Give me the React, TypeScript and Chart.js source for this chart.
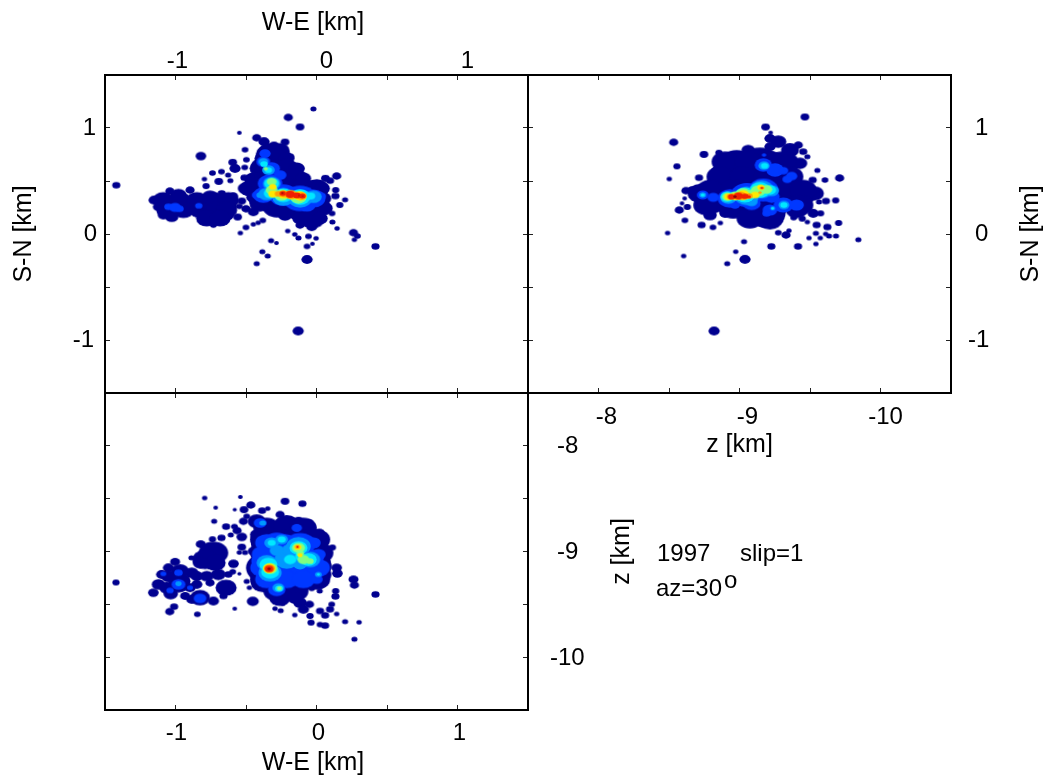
import React, { useEffect, useRef } from "react";
import { Chart, registerables } from "chart.js";

Chart.register(...registerables);

const FONT = '"Liberation Sans", Arial, sans-serif';
const levelColors = ["#00008f", "#0038ff", "#0098ff", "#00e8ff", "#80ff80", "#ffe800", "#ffa000", "#f02000", "#800000"];
const levelHalo = [0.7, 0.3, 0.3, 0.3, 0.3, 0.3, 0.3, 0.3, 0];

type Blob = [number, number, number];

// Each row: position along the horizontal axis [km], position along the vertical axis [km], blob radius [km]
const weSnLevel1: Blob[] = [
  [-1.42,.46,.024],[-.82,.735,.033],[-1.04,.405,.028],[-.2,1.1,.028],[-.117,1.01,.026],[-.022,1.18,.017],[-.547,.955,.012],[-.507,.795,.019],
  [-.497,.701,.019],[-.594,.676,.026],[-.509,.628,.019],[-.578,.619,.035],[-.738,.575,.019],[-.674,.588,.019],[-.627,.556,.017],[-.795,.518,.014],
  [-.693,.496,.026],[-.611,.503,.017],[-.511,.531,.024],[-.783,.452,.021],[.143,.547,.028],[.063,.525,.026],[.096,.503,.024],[.136,.415,.021],
  [.134,.358,.024],[.203,.323,.017],[.165,.273,.021],[.11,.194,.019],[.113,.113,.017],[.146,.053,.014],[.262,.012,.028],[.29,-.019,.019],
  [.269,-.054,.014],[.418,-.117,.024],[-.067,-.24,.035],[-.424,-.28,.017],[-.346,-.208,.017],[-.384,-.167,.017],[-.322,-.063,.017],[-.284,-.085,.012],
  [-.029,-.092,.012],[-.067,-.117,.019],[-.003,-.041,.014],[-.057,-.022,.019],[-.128,-.038,.017],[-.154,-.004,.014],[-.204,.028,.014],[-.54,.009,.014],
  [-.5,.062,.019],[-.448,.091,.014],[-.414,.106,.014],[-.381,.128,.019],[-.559,.16,.026],[-.53,.311,.026],[-.547,.261,.019],[-.5,.238,.028],[-.13,-.915,.035],
  [-1.152,.32,.035],[-1.121,.257,.035],[-1.086,.179,.035],[-1.027,.163,.043],[-1.05,.273,.047],[-.979,.367,.052],[-.897,.415,.028],[-.944,.289,.071],
  [-.885,.226,.035],[-1.003,.226,.047],[-.802,.132,.035],[-.731,.084,.019],[-.826,.273,.035],[-.755,.352,.052],[-.719,.257,.095],[-.708,.179,.083],
  [-.637,.179,.047],[-.648,.289,.047],[-.589,.358,.028],[-.672,.383,.024],[-.802,.32,.047],[-.849,.21,.035],[-.613,.257,.043],
  [-1.086,.32,.07],[-.968,.32,.07],[-.849,.32,.07],[-.731,.32,.07],[-.625,.32,.07],[-1.062,.226,.07],[-.944,.226,.07],[-.826,.226,.07],[-.708,.226,.07],[-.637,.226,.07],[-.779,.147,.07],[-.684,.147,.07],
  [-.424,.908,.028],[-.372,.871,.035],[-.301,.83,.035],[-.223,.867,.026],[-.353,.76,.071],[-.258,.76,.066],[-.187,.729,.024],[-.377,.635,.083],
  [-.258,.603,.095],[-.117,.619,.028],[-.152,.509,.095],[-.448,.509,.059],[-.507,.43,.047],[-.353,.446,.106],[-.211,.352,.118],[-.046,.383,.118],
  [.002,.289,.083],[-.117,.226,.095],[-.022,.132,.071],[-.282,.257,.095],[-.4,.289,.071],[-.459,.345,.035],[.025,.415,.047],[-.117,.084,.028],
  [-.034,.069,.035],[-.223,.179,.047],[-.448,.21,.035],[.049,.257,.035],
  [-.341,.792,.06],[-.258,.792,.06],[-.365,.713,.07],[-.282,.713,.08],[-.211,.713,.05],[-.4,.619,.07],[-.306,.619,.08],[-.211,.619,.08],[-.14,.619,.05],
  [-.448,.525,.05],[-.353,.525,.08],[-.258,.525,.08],[-.164,.525,.08],[-.093,.525,.05],[-.471,.43,.07],[-.377,.43,.08],[-.282,.43,.08],[-.187,.43,.08],[-.093,.43,.08],[.002,.43,.08],[.04,.43,.05],
  [-.4,.336,.08],[-.306,.336,.08],[-.211,.336,.08],[-.117,.336,.08],[-.022,.336,.08],[.05,.336,.05],[-.282,.242,.06],[-.211,.242,.08],[-.117,.242,.08],[-.022,.242,.08],[.05,.242,.06],
  [-.117,.147,.05],[-.046,.147,.08],[.025,.147,.05],
];
const weSnLevel2: Blob[] = [
  [-1.05,.257,.028],[-1.003,.251,.04],[-.972,.238,.028],[-.835,.267,.024],
  [-.365,.76,.038],[-.377,.682,.047],[-.318,.619,.057],[-.258,.556,.043],[-.329,.477,.085],[-.377,.367,.071],[-.235,.367,.099],[-.117,.336,.118],[-.022,.336,.083],[.037,.358,.028],[-.069,.273,.059],[-.424,.367,.033],
];
const weSnLevel3: Blob[] = [
  [-.377,.682,.033],[-.341,.603,.043],[-.318,.477,.061],[-.353,.377,.057],[-.4,.367,.024],[-.235,.345,.076],[-.117,.336,.083],[-.022,.352,.057],[-.117,.289,.033],
];
const weSnLevel4: Blob[] = [
  [-.372,.66,.024],[-.341,.603,.024],[-.318,.477,.05],[-.329,.383,.043],[-.235,.367,.064],[-.117,.349,.07],[-.041,.358,.03],
];
const weSnLevel5: Blob[] = [[-.36,.616,.014],[-.318,.493,.033],[-.318,.415,.04],[-.247,.367,.05],[-.128,.345,.055]];
const weSnLevel6: Blob[] = [[-.31,.446,.024],[-.31,.377,.03],[-.235,.374,.036],[-.17,.367,.036],[-.117,.358,.042]];
const weSnLevel7: Blob[] = [[-.27,.38,.024],[-.23,.377,.026],[-.183,.371,.04],[-.105,.358,.033]];
const weSnLevel8: Blob[] = [[-.239,.383,.021],[-.187,.374,.03],[-.14,.364,.026],[-.1,.358,.021]];
const weSnLevel9: Blob[] = [[-.242,.386,.007],[-.124,.364,.005],[-.098,.358,.005]];

const zSnLevel1: Blob[] = [
  [-9.464,1.104,.026],[-9.185,1.009,.026],[-8.533,.865,.028],[-8.748,.751,.026],[-8.854,.767,.021],[-8.556,.638,.021],[-8.502,.519,.014],[-8.713,.531,.024],
  [-8.62,.409,.028],[-8.611,.336,.012],[-8.592,.289,.012],[-8.63,.255,.021],[-8.573,.226,.028],[-8.613,.129,.019],[-8.49,.009,.014],[-8.731,.085,.024],
  [-8.812,.063,.019],[-8.864,.104,.014],[-8.604,-.208,.014],[-8.973,-.167,.014],[-8.913,-.28,.017],[-9.039,-.239,.035],[-9.032,-.072,.017],[-9.226,-.117,.024],
  [-9.415,-.117,.024],[-9.542,-.094,.014],[-9.493,-.038,.014],[-9.573,-.038,.014],[-9.542,.006,.017],[-9.611,0,.014],[-9.635,-.019,.017],[-9.684,-.019,.017],
  [-9.843,-.054,.017],[-9.703,.104,.021],[-9.623,.066,.024],[-9.547,.085,.024],[-9.575,.195,.021],[-9.481,.113,.014],[-9.445,.145,.021],[-9.384,.154,.019],
  [-9.613,.311,.024],[-9.682,.317,.021],[-9.564,.302,.017],[-9.71,.528,.028],[-9.552,.6,.017],[-9.606,.509,.019],[-9.519,.509,.024],[-9.33,-.01,.028],
  [-9.275,.012,.019],[-9.351,.031,.014],[-9.221,.956,.012],[-8.82,-.915,.035],
  [-9.216,.902,.035],[-9.275,.871,.052],[-9.216,.824,.035],[-9.417,.839,.028],[-9.358,.792,.059],[-9.452,.777,.024],[-9.481,.729,.017],[-9.062,.792,.043],
  [-8.98,.667,.118],[-9.145,.667,.142],[-9.311,.667,.106],[-8.897,.556,.106],[-9.074,.446,.213],[-9.311,.415,.154],[-9.452,.383,.095],[-9.535,.383,.059],
  [-9.192,.195,.13],[-9.216,.132,.083],[-8.956,.258,.106],[-8.791,.289,.095],[-8.72,.383,.083],[-8.661,.415,.028],[-8.791,.179,.043],[-8.897,.195,.035],
  [-8.724,.236,.028],[-9.405,.226,.071],[-9.523,.195,.035],[-9.429,.667,.047],[-8.838,.446,.083],
  [-8.897,.682,.09],[-9.062,.682,.09],[-9.228,.682,.09],[-9.334,.682,.06],[-8.861,.541,.09],[-9.027,.541,.09],[-9.192,.541,.09],[-9.358,.541,.09],
  [-8.791,.415,.09],[-8.956,.415,.09],[-9.122,.415,.09],[-9.287,.415,.09],[-9.452,.415,.09],[-8.767,.273,.09],[-8.932,.273,.09],[-9.098,.273,.09],[-9.263,.273,.09],[-9.429,.273,.09],
  [-9.074,.148,.09],[-9.24,.148,.07],
];
const zSnLevel2: Blob[] = [
  [-9.174,.745,.014],[-9.169,.651,.06],[-9.252,.604,.06],[-9.311,.597,.033],[-9.37,.547,.038],[-9.339,.516,.033],[-8.739,.368,.04],[-8.814,.346,.04],
  [-8.932,.336,.085],[-9.051,.368,.11],[-9.169,.415,.105],[-9.228,.352,.055],[-9.086,.289,.062],[-8.968,.273,.033],[-9.311,.273,.068],[-9.216,.226,.05],[-9.192,.195,.028],[-9.405,.273,.05],
];
const zSnLevel3: Blob[] = [
  [-9.174,.644,.038],[-8.739,.368,.022],[-8.921,.343,.056],[-9.051,.36,.085],[-9.157,.421,.082],[-9.228,.409,.05],[-9.086,.305,.04],[-9.315,.273,.037],[-9.235,.242,.016],
];
const zSnLevel4: Blob[] = [
  [-9.178,.644,.024],[-8.739,.368,.012],[-8.913,.352,.046],[-9.039,.368,.068],[-9.145,.415,.07],[-9.216,.415,.042],[-9.315,.273,.023],[-9.235,.242,.008],
];
const zSnLevel5: Blob[] = [[-8.913,.352,.035],[-8.97,.36,.04],[-9.027,.374,.055],[-9.09,.38,.035],[-9.133,.409,.05],[-9.192,.421,.038]];
const zSnLevel6: Blob[] = [[-8.921,.352,.027],[-8.97,.355,.03],[-9.027,.368,.042],[-9.11,.368,.028],[-9.152,.44,.024]];
const zSnLevel7: Blob[] = [[-8.932,.352,.02],[-9.008,.361,.036],[-9.069,.358,.022],[-9.159,.434,.014],[-9.145,.39,.01]];
const zSnLevel8: Blob[] = [[-8.944,.352,.024],[-8.991,.358,.03],[-9.039,.355,.023],[-9.067,.352,.012],[-9.159,.434,.006]];
const zSnLevel9: Blob[] = [[-8.968,.352,.012]];

const weZLevel1: Blob[] = [
  [-1.422,-9.293,.021],[-.793,-8.494,.014],[-.54,-8.484,.012],[-.715,-8.585,.012],[-.58,-8.604,.01],[-.726,-8.714,.017],[-.641,-8.764,.024],[-.582,-8.764,.019],
  [-.563,-8.802,.028],[-.608,-8.843,.017],[-.53,-8.862,.033],[-.674,-8.871,.024],[-.738,-8.884,.021],[-.821,-8.931,.031],[-.53,-8.959,.026],[-.547,-9.01,.014],
  [-.507,-9.01,.017],[-.887,-9.06,.017],[-.223,-8.525,.026],[-.1,-8.547,.024],[-.466,-8.56,.028],[-.514,-8.604,.026],[-.386,-8.613,.024],[-.346,-8.594,.014],
  [-.05,-8.723,.021],[.021,-8.824,.033],[.113,-8.962,.021],[.143,-9.154,.033],[.148,-9.208,.033],[.262,-9.264,.031],[.269,-9.318,.028],[.418,-9.406,.024],
  [.136,-9.374,.021],[.134,-9.425,.024],[-.034,-9.349,.019],[.023,-9.374,.017],[-.495,-9.283,.017],[-.476,-9.343,.014],[-.452,-9.472,.038],[-.58,-9.541,.012],
  [-.294,-9.541,.014],[-.254,-9.56,.017],[-.154,-9.601,.014],[-.239,-9.494,.014],[.143,-9.591,.014],[.203,-9.664,.017],[.302,-9.67,.014],[.269,-9.83,.017],
  [-.039,-9.673,.021],[.025,-9.692,.019],[.061,-9.701,.024],[-.845,-9.594,.019],[-1.01,-9.522,.024],[-1.041,-9.569,.028],[-.547,-9.211,.01],
  [-.117,-9.484,.043],[-.093,-9.547,.035],[-.046,-9.61,.021],[-.05,-9.5,.028],[.025,-9.563,.024],[.061,-9.604,.024],[.096,-9.547,.024],[.108,-9.5,.019],
  [-.731,-9.013,.1],[-.79,-9.075,.085],[-.719,-9.107,.07],[-.826,-9.107,.047],[-.589,-9.116,.033],[-.625,-9.217,.024],[-.594,-9.192,.019],[-.696,-9.217,.047],
  [-.778,-9.233,.043],[-.885,-9.201,.043],[-.968,-9.186,.059],[-1.003,-9.098,.031],[-1.05,-9.154,.035],[-1.098,-9.217,.035],[-1.121,-9.311,.043],[-1.157,-9.39,.033],
  [-1.034,-9.399,.047],[-.979,-9.311,.071],[-.897,-9.343,.035],[-.849,-9.311,.035],[-.932,-9.421,.031],[-.826,-9.437,.066],[-.731,-9.469,.035],[-.641,-9.343,.07],
  [-.755,-9.296,.028],[-.66,-9.421,.024],[-.885,-9.453,.035],[-1.05,-9.233,.05],[-.968,-9.28,.07],[-1.062,-9.343,.05],[-.849,-9.233,.04],
  [-.495,-8.667,.019],[-.518,-8.714,.028],[-.424,-8.714,.059],[-.353,-8.761,.059],[-.258,-8.651,.028],[-.211,-8.745,.083],[-.128,-8.714,.035],[-.057,-8.808,.047],
  [-.424,-8.84,.043],[-.294,-8.934,.165],[-.117,-8.965,.177],[.002,-8.965,.071],[.025,-9.091,.071],[.025,-9.217,.076],[-.353,-9.154,.142],[-.187,-9.217,.189],
  [-.069,-9.186,.118],[-.258,-9.343,.095],[-.377,-9.296,.083],[-.14,-9.374,.059],[-.282,-9.421,.035],[-.046,-9.311,.035],[-.448,-8.997,.035],
  [-.353,-8.777,.09],[-.211,-8.777,.09],[-.093,-8.777,.09],[-.377,-8.887,.09],[-.235,-8.887,.09],[-.093,-8.887,.09],[.002,-8.887,.09],
  [-.377,-9.013,.09],[-.235,-9.013,.09],[-.093,-9.013,.09],[.025,-9.013,.09],[-.388,-9.138,.09],[-.247,-9.138,.09],[-.105,-9.138,.09],[.013,-9.138,.09],
  [-.377,-9.264,.09],[-.235,-9.264,.09],[-.093,-9.264,.09],[.002,-9.264,.09],[-.282,-9.374,.09],[-.152,-9.374,.09],[-.26,-9.44,.07],[-.15,-9.44,.05],
];
const weZLevel2: Blob[] = [
  [-.979,-9.201,.028],[-.979,-9.311,.047],[-1.039,-9.368,.024],[-.826,-9.444,.043],[-1.086,-9.211,.019],[-.897,-9.343,.019],
  [-.4,-8.73,.043],[-.377,-8.903,.047],[-.282,-8.918,.095],[-.117,-8.934,.106],[-.022,-9.06,.071],[.002,-9.201,.047],[-.377,-9.091,.083],[-.211,-9.123,.13],
  [-.117,-9.107,.095],[-.329,-9.217,.095],[-.282,-9.343,.052],[-.14,-8.777,.035],[-.117,-9.249,.047],
  [-.353,-8.918,.08],[-.223,-8.918,.08],[-.093,-8.918,.08],[-.022,-8.918,.05],[-.377,-9.028,.08],[-.235,-9.028,.08],[-.093,-9.028,.08],[.013,-9.028,.05],
  [-.388,-9.154,.08],[-.247,-9.154,.08],[-.105,-9.154,.08],[.013,-9.154,.08],[-.353,-9.264,.08],[-.211,-9.264,.08],[-.093,-9.264,.08],[.002,-9.264,.04],[-.282,-9.359,.06],
];
const weZLevel3: Blob[] = [
  [-.381,-8.73,.022],[-.979,-9.305,.02],[-.318,-8.918,.05],[-.247,-8.887,.043],[-.128,-8.95,.085],[-.046,-9.076,.07],[-.353,-9.107,.07],[-.211,-9.076,.085],
  [-.329,-9.201,.08],[-.27,-9.343,.04],[.013,-9.217,.022],[-.117,-9.123,.045],[-.28,-8.99,.05],[-.19,-8.98,.05],
];
const weZLevel4: Blob[] = [
  [-.318,-8.918,.026],[-.247,-8.887,.026],[-.128,-8.965,.062],[-.057,-9.076,.056],[-.341,-9.123,.062],[-.187,-9.076,.042],[-.329,-9.192,.062],[-.265,-9.349,.026],[.013,-9.217,.008],[-.12,-9.05,.03],
];
const weZLevel5: Blob[] = [[-.128,-8.965,.045],[-.093,-9.076,.04],[-.046,-9.091,.024],[-.329,-9.16,.05],[-.263,-9.349,.016],[-.115,-9.02,.025]];
const weZLevel6: Blob[] = [[-.133,-8.959,.024],[-.117,-9.035,.016],[-.334,-9.16,.042]];
const weZLevel7: Blob[] = [[-.135,-8.956,.016],[-.334,-9.16,.036]];
const weZLevel8: Blob[] = [[-.336,-9.164,.028],[-.135,-8.956,.006]];
const weZLevel9: Blob[] = [[-.336,-9.164,.012]];

const weSnLevels = [weSnLevel1, weSnLevel2, weSnLevel3, weSnLevel4, weSnLevel5, weSnLevel6, weSnLevel7, weSnLevel8, weSnLevel9];
const zSnLevels = [zSnLevel1, zSnLevel2, zSnLevel3, zSnLevel4, zSnLevel5, zSnLevel6, zSnLevel7, zSnLevel8, zSnLevel9];
const weZLevels = [weZLevel1, weZLevel2, weZLevel3, weZLevel4, weZLevel5, weZLevel6, weZLevel7, weZLevel8, weZLevel9];

const ellipseCache = new Map<string, HTMLCanvasElement>();
function ellipseSprite(rx: number, ry: number, color: string) {
  const key = `${rx.toFixed(2)}|${ry.toFixed(2)}|${color}`;
  let sprite = ellipseCache.get(key);
  if (!sprite) {
    sprite = document.createElement("canvas");
    sprite.width = Math.ceil(rx * 2) + 4;
    sprite.height = Math.ceil(ry * 2) + 4;
    const c = sprite.getContext("2d")!;
    c.fillStyle = color;
    c.beginPath();
    c.ellipse(sprite.width / 2, sprite.height / 2, rx, ry, 0, 0, Math.PI * 2);
    c.fill();
    ellipseCache.set(key, sprite);
  }
  return sprite;
}

function makeDatasets(levels: Blob[][]) {
  return levels.map((rows, i) => ({
    label: `level ${i + 1}`,
    order: -i,
    xAxisID: "x",
    yAxisID: "y",
    backgroundColor: levelColors[i],
    radius: 3,
    clip: false,
    data: rows.map(([x, y, extent]) => ({ x, y, extent })),
    pointStyle: (ctx: any) => {
      if (!ctx.raw) return "circle";
      const { x, y } = ctx.chart.scales;
      const pxX = Math.abs(x.getPixelForValue(x.min + 1) - x.getPixelForValue(x.min));
      const pxY = Math.abs(y.getPixelForValue(y.min + 1) - y.getPixelForValue(y.min));
      return ellipseSprite(ctx.raw.extent * pxX + levelHalo[i], ctx.raw.extent * pxY + levelHalo[i], levelColors[i]);
    },
  }));
}

type Shift = Record<string, [number, number]>;
const labelFont = { family: FONT, size: 24 };
const titleFont = { family: FONT, size: 25 };

function tickLabel(v: any) {
  return Number.isInteger(v) ? String(v) : "";
}

function axis(opts: any) {
  const { position, min, max, reverse, labels, padding, size, title, titlePad } = opts;
  const horizontal = position === "top" || position === "bottom";
  return {
    type: "linear",
    position,
    min,
    max,
    reverse: !!reverse,
    border: { display: true, color: "#000", width: 2 },
    grid: { display: true, drawOnChartArea: false, drawTicks: true, tickLength: -5, tickColor: "#222", tickWidth: 1 },
    ticks: {
      display: !!labels,
      stepSize: 0.5,
      autoSkip: false,
      maxRotation: 0,
      minRotation: 0,
      padding: padding ?? 0,
      color: "#000",
      font: labelFont,
      callback: tickLabel,
    },
    title: title
      ? { display: true, text: title, color: "#000", font: titleFont, padding: titlePad }
      : { display: false },
    afterFit: (s: any) => {
      if (horizontal) s.height = size;
      else s.width = size;
    },
  };
}

const shiftPlugin = {
  id: "labelShift",
  beforeDraw(chart: any, _a: any, opts: any) {
    const shifts: Record<string, Shift> = opts.shifts || {};
    for (const id of Object.keys(shifts)) {
      const s = chart.scales[id];
      if (!s) continue;
      for (const item of s.getLabelItems(chart.chartArea)) {
        const d = shifts[id][item.label];
        if (d && !item.shifted) {
          item.options.translation = [item.options.translation[0] + d[0], item.options.translation[1] + d[1]];
          item.shifted = true;
        }
      }
    }
  },
};

const noteTexts = [
  { text: "1997", x: 657, y: 554 },
  { text: "slip=1", x: 740, y: 554 },
  { text: "az=30", x: 656, y: 589 },
  { text: "o", x: 724, y: 581 },
];
const notesPlugin = {
  id: "notes",
  afterDraw(chart: any, _a: any, opts: any) {
    if (!opts.show) return;
    const c = chart.ctx;
    c.save();
    c.fillStyle = "#000";
    c.textBaseline = "middle";
    c.textAlign = "left";
    c.font = `24px ${FONT}`;
    for (const n of noteTexts) c.fillText(n.text, n.x, n.y);
    c.restore();
  },
};

const W = 1050;
const H = 780;

function config(levels: Blob[][], scales: any, shifts: Record<string, Shift>, notes = false) {
  return {
    type: "bubble",
    data: { datasets: makeDatasets(levels) },
    options: {
      animation: false,
      responsive: false,
      events: [],
      layout: { padding: 0 },
      scales,
      plugins: { legend: { display: false }, tooltip: { enabled: false }, labelShift: { shifts }, notes: { show: notes } },
    },
    plugins: [shiftPlugin, notesPlugin],
  } as any;
}

function makeConfigs() {
  const km = { min: -1.5, max: 1.5 };
  const depth = { min: -10.5, max: -7.5 };
  const L = 105;
  const R = 528;
  const R2 = 951;
  const T = 75;
  const B = 393;
  const B2 = 710;
  const topPanel = config(
    weSnLevels,
    {
      x: axis({ position: "bottom", ...km, size: H - B }),
      x2: { ...axis({ position: "top", ...km, size: T, labels: true, padding: 4, title: "W-E [km]\u00a0", titlePad: { top: 8, bottom: 0 } }) },
      y: axis({ position: "left", ...km, size: L, labels: true, padding: 14, title: "S-N [km]", titlePad: { top: 9, bottom: 0 } }),
      y2: axis({ position: "right", ...km, size: W - R }),
    },
    { x2: { "-1": [2, 0], "0": [10, 0], "1": [10, 0] }, y: { "-1": [-2, 0], "0": [1, 0] } }
  );
  const rightPanel = config(
    zSnLevels,
    {
      x: axis({ position: "bottom", ...depth, reverse: true, size: H - B, labels: true, padding: 15, title: "z [km]", titlePad: { top: 0, bottom: 320 } }),
      x2: axis({ position: "top", ...depth, reverse: true, size: T }),
      y: axis({ position: "left", ...km, size: R, title: "S-N [km]", titlePad: { top: 1016, bottom: 0 } }),
      y2: axis({ position: "right", ...km, size: W - R2, labels: true, padding: 29 }),
    },
    { x: { "-8": [8, 0], "-9": [8, 0], "-10": [5, 0] }, y2: { "-1": [-7, 0] } }
  );
  const bottomPanel = config(
    weZLevels,
    {
      x: axis({ position: "bottom", ...km, size: H - B2, labels: true, padding: 14, title: "W-E [km]\u00a0", titlePad: { top: 0, bottom: 2 } }),
      x2: axis({ position: "top", ...km, size: B }),
      y: axis({ position: "left", ...depth, size: L, title: "z [km]", titlePad: { top: 607, bottom: 0 } }),
      y2: axis({ position: "right", ...depth, size: W - R, labels: true, padding: 34 }),
    },
    { x: { "-1": [1, 0], "0": [2, 0], "1": [2, 0] }, y2: { "-10": [-7, 1], "-9": [0, 1], "-8": [0, 1] } },
    true
  );
  return [topPanel, rightPanel, bottomPanel];
}

export default function App() {
  const a = useRef<HTMLCanvasElement>(null);
  const b = useRef<HTMLCanvasElement>(null);
  const c = useRef<HTMLCanvasElement>(null);
  useEffect(() => {
    const cfgs = makeConfigs();
    const charts = [a, b, c].map((r, i) => new Chart(r.current!, cfgs[i]));
    return () => charts.forEach((ch) => ch.destroy());
  }, []);
  const style: React.CSSProperties = { position: "absolute", left: 0, top: 0, filter: "blur(0.4px)" };
  return (
    <div style={{ position: "absolute", left: 0, top: 0, width: W, height: H, overflow: "hidden", background: "#fff" }}>
      <canvas ref={a} width={W} height={H} style={style} />
      <canvas ref={b} width={W} height={H} style={style} />
      <canvas ref={c} width={W} height={H} style={style} />
    </div>
  );
}
